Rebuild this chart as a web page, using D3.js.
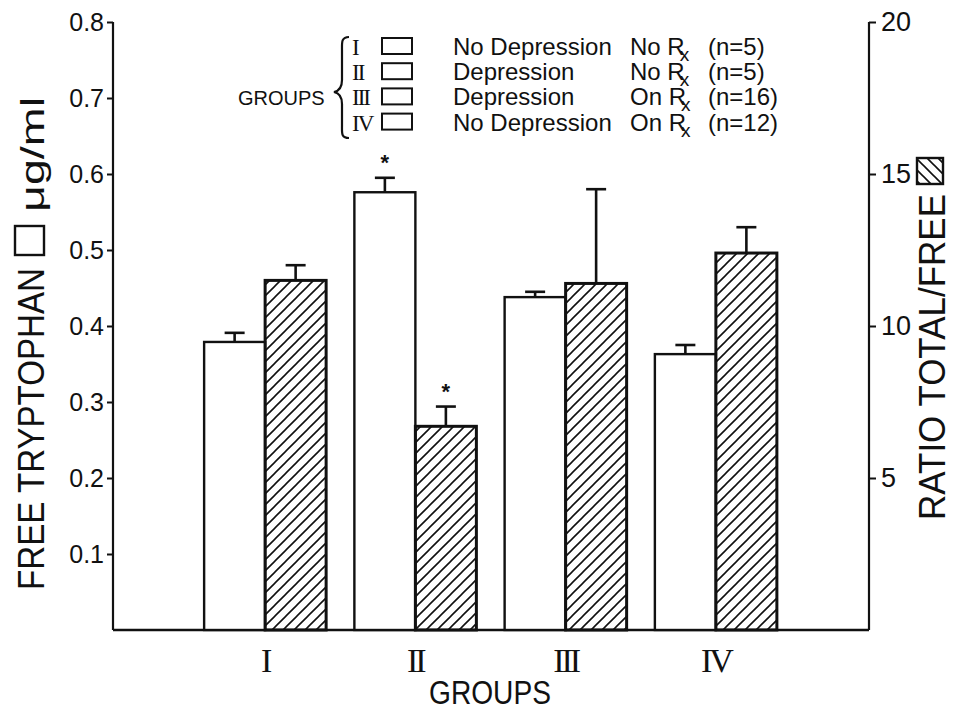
<!DOCTYPE html>
<html>
<head>
<meta charset="utf-8">
<script src="https://cdn.jsdelivr.net/npm/d3@7"></script>
<style>
  body { margin: 0; background: #fff; }
  svg { display: block; }
  text { font-family: "Liberation Sans", Arial, sans-serif; fill: #111; }
  .roman { font-family: "Liberation Serif", "DejaVu Serif", serif; }
</style>
</head>
<body>
<div id="chart"></div>
<script>
// values
const groups = ["I", "II", "III", "IV"];
const depression = ["No Depression", "Depression", "Depression", "No Depression"];
const treatment = ["No", "No", "On", "On"];
const nCounts = [5, 5, 16, 12];
const freeTrp = [0.379, 0.576, 0.438, 0.363];
const freeErr = [0.012, 0.019, 0.007, 0.012];
const ratio = [11.5, 6.7, 11.4, 12.4];
const ratioErr = [0.5, 0.65, 3.1, 0.85];
const freeStar = [false, true, false, false];
const ratioStar = [false, true, false, false];
const leftTicks = [0.1, 0.2, 0.3, 0.4, 0.5, 0.6, 0.7, 0.8];
const rightTicks = [5, 10, 15, 20];

const width = 953, height = 715;
const plot = {left: 113, right: 869, top: 22, bottom: 630};

const svg = d3.select("#chart").append("svg")
    .attr("width", width).attr("height", height);

// hatch pattern for the ratio bars
svg.append("defs").append("pattern")
    .attr("id", "hatch")
    .attr("patternUnits", "userSpaceOnUse")
    .attr("width", 11).attr("height", 11)
    .append("path")
    .attr("d", "M-2,2 l4,-4 M0,11 l11,-11 M9,13 l4,-4")
    .attr("stroke", "#111")
    .attr("stroke-width", 1.6);

const x = d3.scaleBand().domain(groups).range([190, 791]);
const bar = d3.scaleBand().domain(["free", "ratio"]).range([-61, 61]);
const yL = d3.scaleLinear().domain([0, 0.8]).range([plot.bottom, plot.top]);
const yR = d3.scaleLinear().domain([0, 20]).range([plot.bottom, plot.top]);
const cx = g => x(g) + x.bandwidth() / 2;

// axes
const gl = svg.append("g").attr("transform", `translate(${plot.left},0)`)
    .call(d3.axisLeft(yL).tickValues(leftTicks).tickFormat(d3.format(".1f")).tickSize(6).tickSizeOuter(0).tickPadding(3));
const gr = svg.append("g").attr("transform", `translate(${plot.right},0)`)
    .call(d3.axisRight(yR).tickValues(rightTicks).tickSize(7).tickSizeOuter(0).tickPadding(5));
[gl, gr].forEach(g => {
    g.select(".domain").attr("stroke", "#111").attr("stroke-width", 2.2);
    g.selectAll(".tick line").attr("stroke", "#111").attr("stroke-width", 2);
    g.selectAll(".tick text").attr("font-family", "Liberation Sans, Arial, sans-serif")
        .attr("font-size", 25).attr("fill", "#111");
});
gr.selectAll(".tick text").attr("font-size", 27);
gl.select(".domain").attr("d", `M0,${plot.bottom}V${plot.top}`);
gr.select(".domain").attr("d", `M0,${plot.bottom}V${plot.top}`);

svg.append("line")
    .attr("x1", plot.left).attr("x2", plot.right)
    .attr("y1", plot.bottom).attr("y2", plot.bottom)
    .attr("stroke", "#111").attr("stroke-width", 2.4);

// bars
const rows = groups.map((g, i) => ({g, i}));
const gBars = svg.append("g");

gBars.selectAll(".free").data(rows).join("rect")
    .attr("class", "free")
    .attr("x", d => cx(d.g) + bar("free"))
    .attr("width", bar.bandwidth())
    .attr("y", d => yL(freeTrp[d.i]))
    .attr("height", d => yL(0) - yL(freeTrp[d.i]))
    .attr("fill", "#fff").attr("stroke", "#111").attr("stroke-width", 2.4);

gBars.selectAll(".ratio").data(rows).join("rect")
    .attr("class", "ratio")
    .attr("x", d => cx(d.g) + bar("ratio"))
    .attr("width", bar.bandwidth())
    .attr("y", d => yR(ratio[d.i]))
    .attr("height", d => yR(0) - yR(ratio[d.i]))
    .attr("fill", "url(#hatch)").attr("stroke", "#111").attr("stroke-width", 3);

// error bars
function errBars(cls, xoff, scale, vals, errs) {
    const g = svg.append("g").attr("class", cls)
        .attr("stroke", "#111").attr("stroke-width", 2.6);
    g.selectAll("line.v").data(rows).join("line").attr("class", "v")
        .attr("x1", d => cx(d.g) + xoff).attr("x2", d => cx(d.g) + xoff)
        .attr("y1", d => scale(vals[d.i])).attr("y2", d => scale(vals[d.i] + errs[d.i]));
    g.selectAll("line.cap").data(rows).join("line").attr("class", "cap")
        .attr("x1", d => cx(d.g) + xoff - 10).attr("x2", d => cx(d.g) + xoff + 10)
        .attr("y1", d => scale(vals[d.i] + errs[d.i])).attr("y2", d => scale(vals[d.i] + errs[d.i]));
}
errBars("err-free", bar("free") + bar.bandwidth() / 2, yL, freeTrp, freeErr);
errBars("err-ratio", bar("ratio") + bar.bandwidth() / 2, yR, ratio, ratioErr);

// significance stars
svg.selectAll(".star-free").data(rows.filter(d => freeStar[d.i])).join("text")
    .attr("x", d => cx(d.g) + bar("free") + bar.bandwidth() / 2)
    .attr("y", d => yL(freeTrp[d.i] + freeErr[d.i]) - 8)
    .attr("text-anchor", "middle").attr("font-size", 22).attr("font-weight", "bold").text("*");
svg.selectAll(".star-ratio").data(rows.filter(d => ratioStar[d.i])).join("text")
    .attr("x", d => cx(d.g) + bar("ratio") + bar.bandwidth() / 2)
    .attr("y", d => yR(ratio[d.i] + ratioErr[d.i]) - 8)
    .attr("text-anchor", "middle").attr("font-size", 22).attr("font-weight", "bold").text("*");

// group labels
svg.selectAll(".glabel").data(groups).join("text")
    .attr("class", "roman")
    .attr("x", d => cx(d)).attr("y", 672)
    .attr("text-anchor", "middle").attr("font-size", 34)
    .attr("letter-spacing", -3)
    .text(d => d);

svg.append("text")
    .attr("x", 490).attr("y", 704).attr("text-anchor", "middle")
    .attr("font-size", 33).attr("textLength", 122).attr("lengthAdjust", "spacingAndGlyphs")
    .text("GROUPS");

// left axis title
const lt = svg.append("g").attr("transform", "translate(44,345) rotate(-90)");
lt.append("text").attr("x", -245).attr("y", 0)
    .attr("font-size", 36).attr("textLength", 322).attr("lengthAdjust", "spacingAndGlyphs")
    .text("FREE TRYPTOPHAN");
lt.append("rect").attr("x", 90).attr("y", -29).attr("width", 29).attr("height", 29)
    .attr("fill", "#fff").attr("stroke", "#111").attr("stroke-width", 2.4);
lt.append("text").attr("x", 133).attr("y", 0)
    .attr("font-size", 33).attr("textLength", 115).attr("lengthAdjust", "spacingAndGlyphs")
    .text("μg/ml");

// right axis title
const rt = svg.append("g").attr("transform", "translate(945,330) rotate(-90)");
rt.append("text").attr("x", -190).attr("y", 0)
    .attr("font-size", 37).attr("textLength", 326).attr("lengthAdjust", "spacingAndGlyphs")
    .text("RATIO TOTAL/FREE");
rt.append("rect").attr("x", 146).attr("y", -28).attr("width", 26).attr("height", 26)
    .attr("fill", "url(#hatch)").attr("stroke", "#111").attr("stroke-width", 2.4);

// legend
const leg = svg.append("g");
const rowY = i => 55 + i * 25.2;
leg.append("text").attr("x", 238).attr("y", 105).attr("font-size", 20).text("GROUPS");
leg.append("path")
    .attr("d", "M349,37 C341,37 342,43 342,50 L342,80 C342,88 339,91 334,92 C339,93 342,96 342,104 L342,126 C342,133 341,138 349,138")
    .attr("fill", "none").attr("stroke", "#111").attr("stroke-width", 2.2);
const lrows = leg.selectAll(".lrow").data(rows).join("g").attr("class", "lrow")
    .attr("transform", d => `translate(0,${rowY(d.i)})`);
lrows.append("text").attr("class", "roman")
    .attr("x", 352).attr("y", 0)
    .attr("font-size", 23).attr("letter-spacing", -2).text(d => d.g);
lrows.append("rect").attr("x", 382).attr("y", -17).attr("width", 30).attr("height", 16)
    .attr("fill", "#fff").attr("stroke", "#111").attr("stroke-width", 2);
lrows.append("text").attr("x", 453).attr("y", 0).attr("font-size", 24)
    .text(d => depression[d.i]);
const rx = lrows.append("text").attr("x", 630).attr("y", 0).attr("font-size", 24);
rx.append("tspan").text(d => treatment[d.i] + " R");
rx.append("tspan").attr("dy", 6).attr("dx", -5).attr("font-size", 19).text("x");
lrows.append("text").attr("x", 708).attr("y", 0).attr("font-size", 24)
    .text(d => `(n=${nCounts[d.i]})`);
</script>
</body>
</html>
